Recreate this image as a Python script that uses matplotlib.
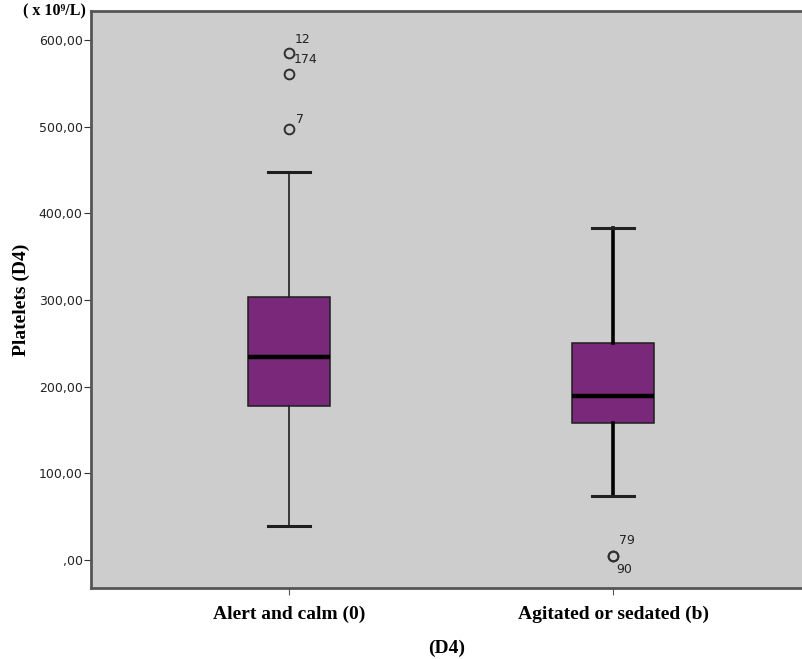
import numpy as np
import matplotlib
matplotlib.use('Agg')
import matplotlib.pyplot as plt
from matplotlib.ticker import FuncFormatter

# valori (x 10^9/L)
categories = ['Alert and calm (0)', 'Agitated or sedated (b)']
whislo = [39.2, 73.8]
q1 = [177.7, 158.0]
med = [234.2, 189.2]
q3 = [303.5, 250.4]
whishi = [447.7, 383.0]
fliers = [[584.6, 560.4, 497.3], [5.0, 5.0]]
flier_ids = [['12', '174', '7'], ['79', '90']]

stats = []
for i in range(len(categories)):
    stats.append(dict(label=categories[i], whislo=whislo[i], q1=q1[i], med=med[i],
                      q3=q3[i], whishi=whishi[i], fliers=fliers[i]))

fig = plt.figure(figsize=(8.02, 6.59), dpi=100)
ax = fig.add_axes([0.1135, 0.1077, 0.8865, 0.8756])
ax.set_facecolor('#cdcdcd')

pos = [1, 2]
res = ax.bxp(stats, positions=pos, widths=0.253, patch_artist=True,
             boxprops=dict(facecolor='#7a287a', edgecolor='#1e1e1e', linewidth=1.1),
             medianprops=dict(color='black', linewidth=3.2),
             whiskerprops=dict(color='#1e1e1e', linewidth=1.2),
             capprops=dict(color='#1e1e1e', linewidth=2.2),
             flierprops=dict(marker='o', markersize=7, markerfacecolor='none',
                             markeredgecolor='#303030', markeredgewidth=1.4),
             capwidths=0.128)
# secondo box con baffi piu spessi
for w in res['whiskers'][2:]:
    w.set_linewidth(2.6)
    w.set_color('black')
for c in res['caps'][2:]:
    c.set_color('#222222')

# etichette dei casi anomali
offsets = [[(0.043, 16), (0.05, 17), (0.034, 11.5)], [(0.043, 17), (0.034, -16)]]
for i in range(len(categories)):
    for v, lab, (dx, dy) in zip(fliers[i], flier_ids[i], offsets[i]):
        ax.text(pos[i] + dx, v + dy, lab, fontsize=9, ha='center', va='center',
                color='#222222', family='DejaVu Sans')

ax.set_xlim(0.389, 2.583)
ax.set_ylim(-32.3, 633.5)
ax.set_yticks(np.arange(0, 601, 100))
ax.yaxis.set_major_formatter(FuncFormatter(lambda v, p: ',00' if v == 0 else '%d,00' % v))
ax.tick_params(axis='y', labelsize=9, length=5, color='#333333', labelcolor='#222222', pad=1)
ax.tick_params(axis='x', length=5, color='#555555', pad=8)
ax.set_xticks(pos)
ax.set_xticklabels(categories, family='Liberation Serif', fontweight='bold', fontsize=14)

for s in ['left', 'bottom', 'top']:
    ax.spines[s].set_color('#555555')
    ax.spines[s].set_linewidth(2)
ax.spines['right'].set_visible(False)

ax.set_ylabel('Platelets (D4)', family='Liberation Serif', fontweight='bold', fontsize=14, labelpad=6)
ax.set_xlabel('(D4)', family='Liberation Serif', fontweight='bold', fontsize=14, labelpad=12)

fig.text(0.068, 0.982, '( x 10\u2079/L)', family=['Liberation Serif', 'DejaVu Serif'],
         fontweight='bold', fontsize=11.5, ha='center', va='center')

fig.savefig('out.png', dpi=100)
